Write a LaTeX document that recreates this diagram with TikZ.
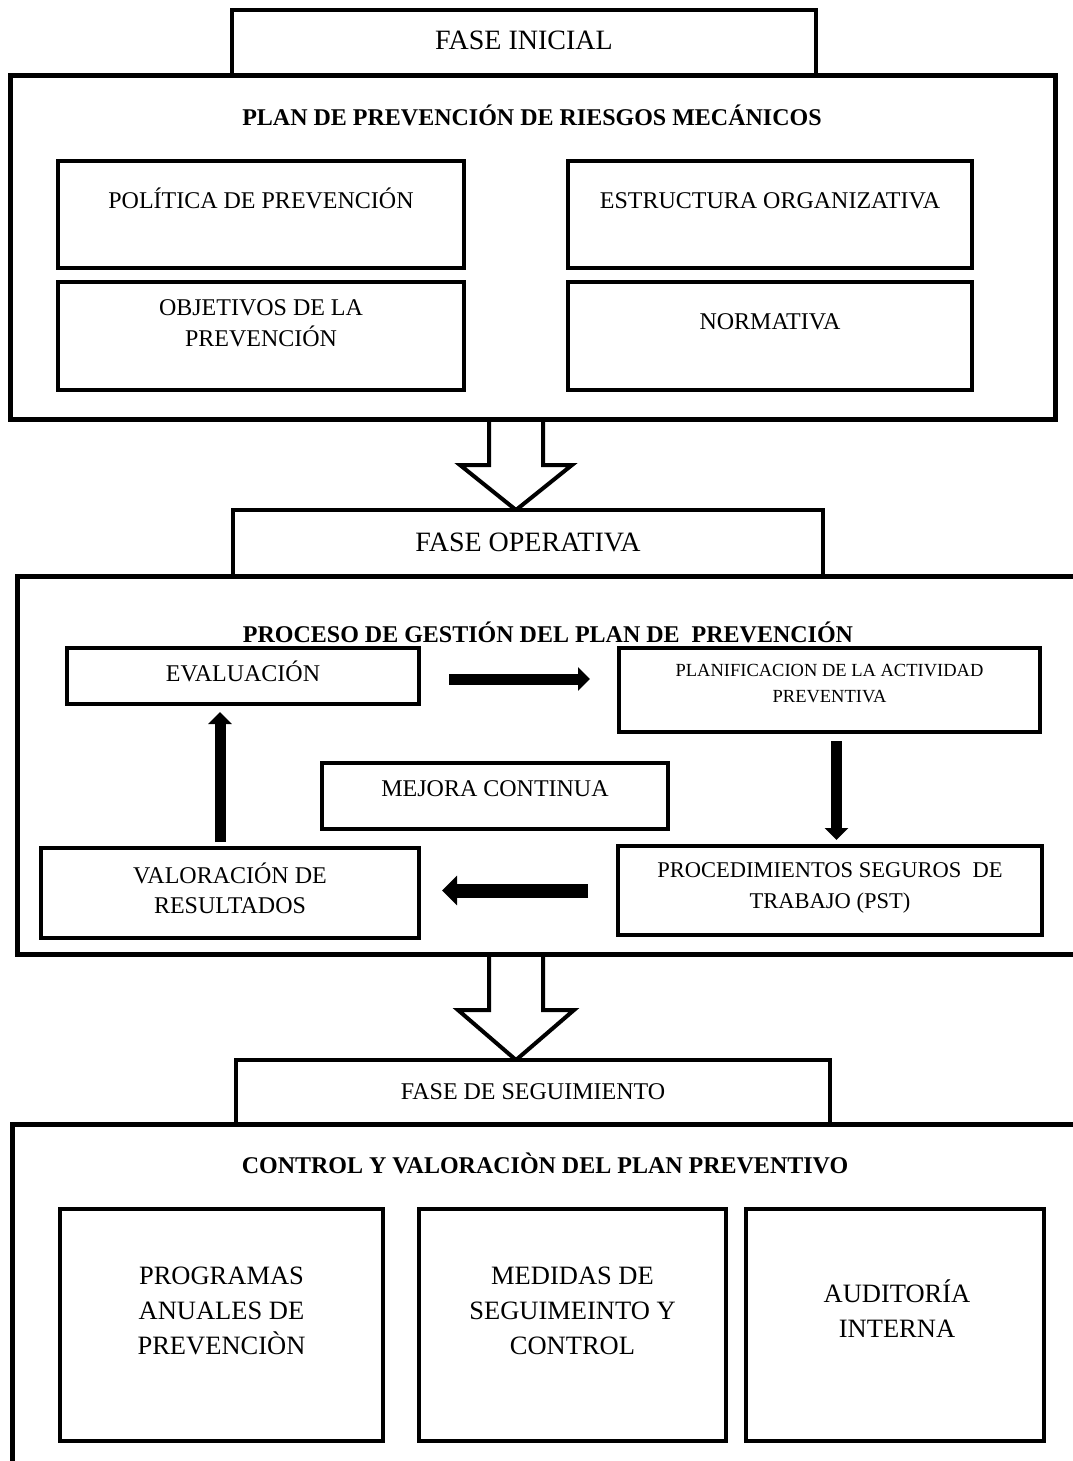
\documentclass[tikz,border=0pt]{standalone}
\usepackage{fontspec}
\setmainfont{Liberation Serif}
\usetikzlibrary{arrows.meta,calc}
\newcommand\mkbox[6]{\node[#6, minimum width={(#4-#2)*1pt}, minimum height={(#5-#3)*1pt}] (#1) at ({(#2+#4)/2},{(#3+#5)/2}) {};}
% #1 x, #2 start anchor, #3 tip anchor, #4 neck distance, #5 head half width
\newcommand\hollowarr[5]{\draw[hollow] let \p1=(#2), \p2=(#3) in
  (#1pt-27pt,\y1) -- (#1pt-27pt,\y2+#4pt) -- (#1pt-#5pt,\y2+#4pt) -- (#1pt,\y2)
  -- (#1pt+#5pt,\y2+#4pt) -- (#1pt+27pt,\y2+#4pt) -- (#1pt+27pt,\y1);}
\begin{document}
\begin{tikzpicture}[x=1pt,y=-1pt, line join=miter,
 outerbox/.style={draw, line width=5pt, inner sep=0pt, outer sep=0pt},
 outerline/.style={draw, line width=5pt},
 inbox/.style={draw, line width=4.5pt, inner sep=0pt, outer sep=0pt},
 phasebox/.style={draw, line width=4pt, fill=white, inner sep=0pt, outer sep=0pt},
 txt/.style={inner sep=0pt, align=center, anchor=base},
 ttl/.style={txt, font=\bfseries\fontsize{24}{30}\selectfont},
 t28/.style={txt, font=\fontsize{28}{34}\selectfont},
 t24/.style={txt, font=\fontsize{24}{31}\selectfont},
 t24v/.style={txt, font=\fontsize{24}{30}\selectfont},
 t22/.style={txt, font=\fontsize{22.5}{31}\selectfont},
 t18/.style={txt, font=\fontsize{18.5}{26}\selectfont},
 t26/.style={txt, font=\fontsize{26.5}{35}\selectfont},
 hollow/.style={draw, line width=4pt, fill=white},
 blk/.style={line width=11pt, -{Triangle[length=12pt,width=23pt]}},
 blkL/.style={line width=14pt, -{Triangle[length=15pt,width=29pt]}}]
\useasboundingbox (0,0) rectangle (1073,1461);
\fill[white] (0,0) rectangle (1073,1461);

% anchors of the hollow arrows
\coordinate (o1b) at (516,419);
\coordinate (o2b) at (516,954);
\coordinate (fopn) at (516,510);
\coordinate (fdsn) at (516,1060);
\hollowarr{516}{o1b}{fopn}{45}{56}
\hollowarr{516}{o2b}{fdsn}{50}{58}

% phase 1
\mkbox{fini}{232}{10}{816}{76}{phasebox}
\mkbox{out1}{10}{76}{1055}{419}{outerbox}
\mkbox{pol}{58}{161}{464}{268}{inbox}
\mkbox{est}{568}{161}{972}{268}{inbox}
\mkbox{obj}{58}{282}{464}{390}{inbox}
\mkbox{nor}{568}{282}{972}{390}{inbox}

% phase 2
\draw[outerline] (1085,576) -- (17,576) -- (17,954) -- (1085,954);
\mkbox{fop}{233}{510}{823}{576}{phasebox}
\mkbox{eval}{67}{648}{419}{704}{inbox}
\mkbox{plan}{619}{648}{1040}{732}{inbox}
\mkbox{mej}{322}{763}{668}{829}{inbox}
\mkbox{val}{41}{848}{419}{938}{inbox}
\mkbox{proc}{618}{846}{1042}{935}{inbox}

% phase 3
\draw[outerline] (1085,1124) -- (12,1124) -- (12,1475);
\mkbox{fds}{236}{1060}{830}{1124}{phasebox}
\mkbox{prog}{60}{1209}{383}{1441}{inbox}
\mkbox{med}{419}{1209}{726}{1441}{inbox}
\mkbox{aud}{746}{1209}{1044}{1441}{inbox}

% texts (multi-line nodes: base = last line baseline)
\node[t28] (tfini) at (524,50) {FASE INICIAL};
\node[ttl] (ttl1) at (532,125) {PLAN DE PREVENCIÓN DE RIESGOS MECÁNICOS};
\node[t24] (tpol) at (261,208) {POLÍTICA DE PREVENCIÓN};
\node[t24] (test) at (770,208) {ESTRUCTURA ORGANIZATIVA};
\node[t24] (tobj) at (261,346) {OBJETIVOS DE LA\\PREVENCIÓN};
\node[t24] (tnor) at (770,329) {NORMATIVA};
\node[t28] (tfop) at (528,551) {FASE OPERATIVA};
\node[ttl] (ttl2) at (548,642) {PROCESO DE GESTIÓN DEL PLAN DE\ \ PREVENCIÓN};
\node[t24] (teval) at (243,681) {EVALUACIÓN};
\node[t18] (tplan) at (829.5,702) {PLANIFICACION DE LA ACTIVIDAD\\PREVENTIVA};
\node[t24] (tmej) at (495,796) {MEJORA CONTINUA};
\node[t24v] (tval) at (230,913) {VALORACIÓN DE\\RESULTADOS};
\node[t22] (tproc) at (830,908) {PROCEDIMIENTOS SEGUROS\ \ DE\\TRABAJO (PST)};
\node[t24] (tfds) at (533,1099) {FASE DE SEGUIMIENTO};
\node[ttl] (ttl3) at (545,1173) {CONTROL Y VALORACIÒN DEL PLAN PREVENTIVO};
\node[t26] (tprog) at (221.5,1354) {PROGRAMAS\\ANUALES DE\\PREVENCIÒN};
\node[t26] (tmed) at (572.5,1354) {MEDIDAS DE\\SEGUIMEINTO Y\\CONTROL};
\node[t26] (taud) at (897,1337) {AUDITORÍA\\INTERNA};

% process arrows
\coordinate (r1) at ([xshift=30pt,yshift=-3pt]eval.east);
\draw[blk, shorten >=29pt] (r1) -- (r1 -| plan.west);
\coordinate (d1) at ([xshift=7pt,yshift=-9pt]plan.south);
\draw[blk, shorten >=6pt] (d1) -- (d1 |- proc.north);
\coordinate (l1) at ([xshift=-30pt]proc.west);
\draw[blkL, shorten >=23pt] (l1) -- (l1 -| val.east);
\coordinate (u1) at ([xshift=-10pt,yshift=6pt]val.north);
\draw[blk, shorten >=8pt] (u1) -- (u1 |- eval.south);
\end{tikzpicture}
\end{document}
